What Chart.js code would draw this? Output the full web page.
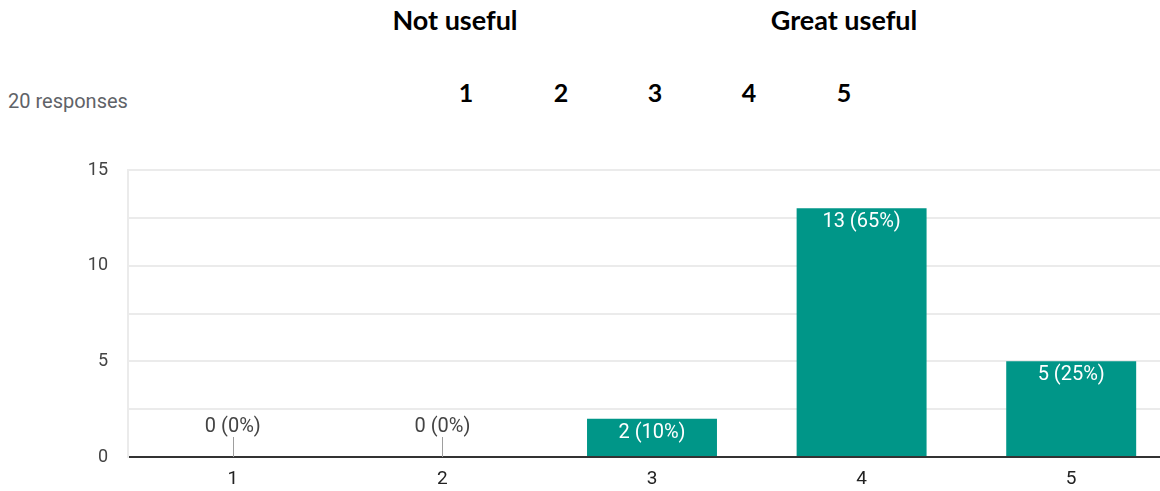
<!DOCTYPE html>
<html lang="en">
<head>
  <meta charset="UTF-8">
  <title>Usefulness rating</title>
  <script src="https://cdn.jsdelivr.net/npm/chart.js"></script>
  <style>
    html, body {
      margin: 0;
      padding: 0;
      background: #fff;
      overflow: hidden;
      width: 1160px;
      height: 491px;
    }
    .head {
      position: absolute;
      font-family: Lato, 'Open Sans', sans-serif;
      font-weight: bold;
      color: #000;
      white-space: nowrap;
      transform: translate(-50%, -50%);
    }
    .big { font-size: 27px; }
    .num { font-size: 25px; }
    .count {
      position: absolute;
      left: 8px;
      top: 101px;
      transform: translateY(-50%);
      font-family: Roboto, Arial, sans-serif;
      font-size: 20px;
      color: #5f6368;
    }
    .chart-box {
      position: absolute;
      left: 0;
      top: 0;
      width: 1176px;
      height: 491px;
    }
  </style>
</head>
<body>
  <div class="head big" style="left:455px;top:19px">Not useful</div>
  <div class="head big" style="left:844px;top:19px">Great useful</div>
  <div id="scaleRow"></div>
  <div class="count">20 responses</div>
  <div class="chart-box"><canvas id="chart"></canvas></div>

  <script>
    // rating options and answer counts
    const ratings = ['1', '2', '3', '4', '5'];
    const counts = [0, 0, 2, 13, 5];
    const totalResponses = 20;
    const yTicks = [0, 5, 10, 15];

    // header scale numbers (same as ratings), placed above the chart
    const headerX = [466, 561, 655, 749, 844];
    const row = document.getElementById('scaleRow');
    ratings.forEach((r, i) => {
      const d = document.createElement('div');
      d.className = 'head num';
      d.style.left = headerX[i] + 'px';
      d.style.top = '92px';
      d.textContent = r;
      row.appendChild(d);
    });

    const TEAL = '#009688';

    // value labels: white inside the bar, gray above with a stub for zero
    const barLabels = {
      id: 'barLabels',
      afterDatasetsDraw(chart) {
        const ctx = chart.ctx;
        const meta = chart.getDatasetMeta(0);
        const yZero = chart.scales.y.getPixelForValue(0);
        ctx.save();
        ctx.font = '20px Roboto, Arial, sans-serif';
        ctx.textAlign = 'center';
        ctx.textBaseline = 'middle';
        meta.data.forEach((bar, i) => {
          const v = counts[i];
          const pct = Math.round(v / totalResponses * 100);
          const txt = v + ' (' + pct + '%)';
          if (v === 0) {
            ctx.strokeStyle = '#9e9e9e';
            ctx.lineWidth = 1;
            ctx.beginPath();
            ctx.moveTo(Math.round(bar.x) + 0.5, yZero - 20);
            ctx.lineTo(Math.round(bar.x) + 0.5, yZero);
            ctx.stroke();
            ctx.fillStyle = '#444';
            ctx.fillText(txt, bar.x, yZero - 30);
          } else {
            ctx.fillStyle = '#fff';
            ctx.fillText(txt, bar.x, bar.y + 14);
          }
        });
        ctx.restore();
      }
    };

    new Chart(document.getElementById('chart'), {
      type: 'bar',
      data: {
        labels: ratings,
        datasets: [{
          data: counts,
          backgroundColor: TEAL,
          barPercentage: 0.62,
          categoryPercentage: 1
        }]
      },
      options: {
        responsive: true,
        maintainAspectRatio: false,
        animation: false,
        layout: { padding: { top: 170, right: 0, bottom: 0, left: 0 } },
        plugins: {
          legend: { display: false },
          tooltip: { enabled: false }
        },
        scales: {
          x: {
            grid: { display: false, drawTicks: false },
            border: { color: '#333', width: 2 },
            ticks: {
              padding: 11,
              color: '#222',
              font: { family: 'Roboto, Arial, sans-serif', size: 19 }
            },
            afterFit: s => { s.height = 34; }
          },
          y: {
            min: 0,
            max: 15,
            grid: {
              color: '#ebebeb',
              lineWidth: 2,
              drawTicks: false
            },
            border: { color: '#ebebeb', width: 2 },
            ticks: {
              stepSize: 2.5,
              padding: 20,
              color: '#444',
              font: { family: 'Roboto, Arial, sans-serif', size: 18 },
              callback: v => yTicks.includes(v) ? String(v) : ''
            },
            afterFit: s => { s.width = 128; }
          }
        }
      },
      plugins: [barLabels]
    });
  </script>
</body>
</html>
